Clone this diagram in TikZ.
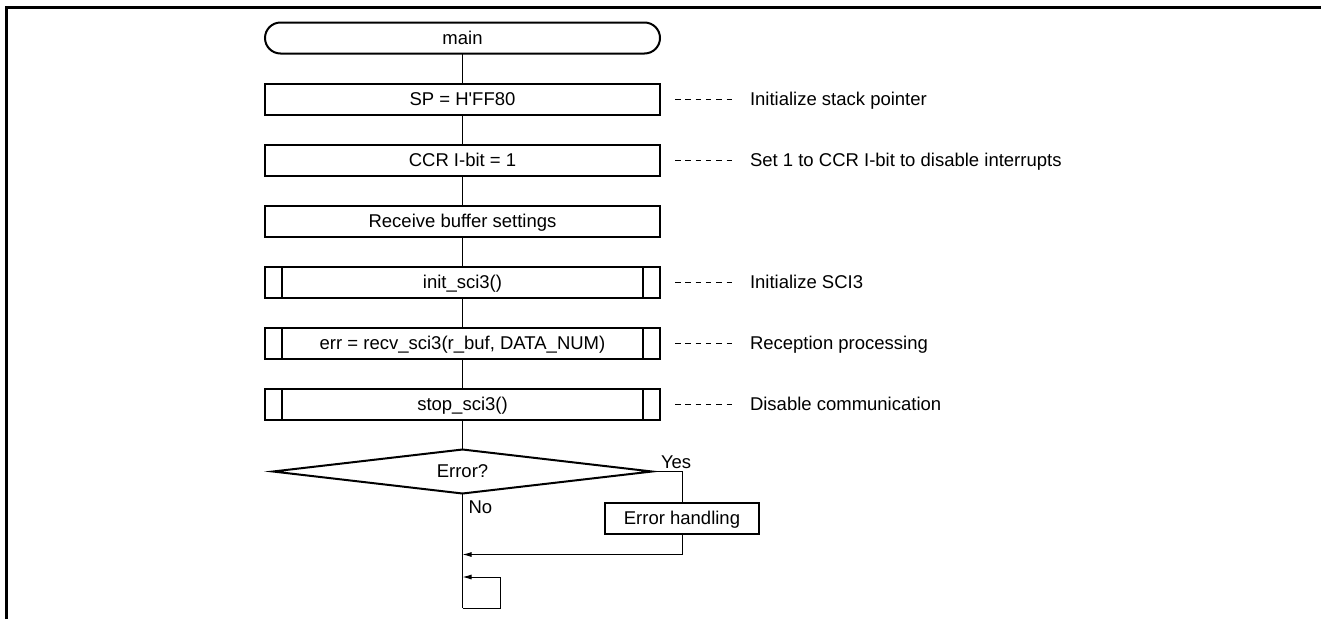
\documentclass[tikz,border=0pt]{standalone}
\usepackage{fontspec}
\setmainfont{Liberation Sans}
\usetikzlibrary{positioning,shapes.geometric,arrows.meta}

\tikzset{
	box/.style={draw, line width=2pt, minimum height=31pt, inner sep=0pt, outer sep=0pt, text height=13pt, text depth=0pt},
	term/.style={box, minimum width=395pt, rounded corners=15.5pt},
	proc/.style={box, minimum width=395pt},
	sub/.style={proc, path picture={
		\draw[line width=2pt] ([xshift=17pt]path picture bounding box.north west) -- ([xshift=17pt]path picture bounding box.south west)
			([xshift=-17pt]path picture bounding box.north east) -- ([xshift=-17pt]path picture bounding box.south east);}},
	dec/.style={diamond, draw, line width=2pt, aspect=9, minimum width=379pt, minimum height=44pt, inner sep=0pt, outer sep=0pt},
	note/.style={inner sep=0pt, outer sep=0pt, text height=13pt, text depth=0pt},
	flow/.style={line width=1pt, -{Latex[length=9pt,width=5pt]}},
	remark/.style={line width=1pt, dash pattern=on 5.5pt off 4.8pt},
	edgeframe/.style={line width=2.6pt}
}

\begin{document}
\begin{tikzpicture}[x=1pt, y=-1pt, font=\fontsize{18.5}{22}\selectfont]
	\useasboundingbox (0,0) rectangle (1321,619);
	\draw[edgeframe] (6.5,619) -- (6.5,7.5) -- (1321,7.5);
	
	\node[term](main) at (462.5,38){main};
	\node[proc, below=30pt of main](sp){SP = H\textquotesingle FF80};
	\node[proc, below=30pt of sp](ccr){CCR I-bit = 1};
	\node[proc, below=30pt of ccr](rbuf){Receive buffer settings};
	\node[sub, below=30pt of rbuf](init){init\_sci3()};
	\node[sub, below=30pt of init](recv){err = recv\_sci3(r\_buf, DATA\_NUM)};
	\node[sub, below=30pt of recv](stop){stop\_sci3()};
	\node[dec, below=30pt of stop](err_q){Error?};
	\node[proc, minimum width=154pt, below=31pt of err_q.east, xshift=30pt](err_h){Error handling};
	
	\node[note, right=90pt of sp](n_sp){Initialize stack pointer};
	\node[note, right=90pt of ccr](n_ccr){Set 1 to CCR I-bit to disable interrupts};
	\node[note, right=90pt of init](n_init){Initialize SCI3};
	\node[note, right=90pt of recv](n_recv){Reception processing};
	\node[note, right=90pt of stop](n_stop){Disable communication};
	
	\node[note, above right=3pt and 9pt of err_q.east](yes){Yes};
	\node[note, below right=7pt and 6pt of err_q.south](no){No};
	
	\foreach \b in {sp,ccr,init,recv,stop}
		\draw[remark] ([xshift=15pt]\b.east) -- ([xshift=-18pt]n_\b.west);
	
	\draw[flow, -] (main) -- (sp);
	\draw[flow, -] (sp) -- (ccr);
	\draw[flow, -] (ccr) -- (rbuf);
	\draw[flow, -] (rbuf) -- (init);
	\draw[flow, -] (init) -- (recv);
	\draw[flow, -] (recv) -- (stop);
	\draw[flow, -] (stop) -- (err_q);
	\draw[flow, -] (err_q.east) -| (err_h.north);
	
	\coordinate[below=21pt of err_h](ret);
	\coordinate (loop_top) at (462.5,577);
	\coordinate (loop_bot) at (462.5,608);
	
	\draw[flow] (err_h) -- (ret) -- (ret -| err_q.south);
	\draw[flow, -] (err_q) -- (loop_bot);
	\draw[flow] (loop_bot) -- ++(37.5,0) |- (loop_top);
\end{tikzpicture}
\end{document}
